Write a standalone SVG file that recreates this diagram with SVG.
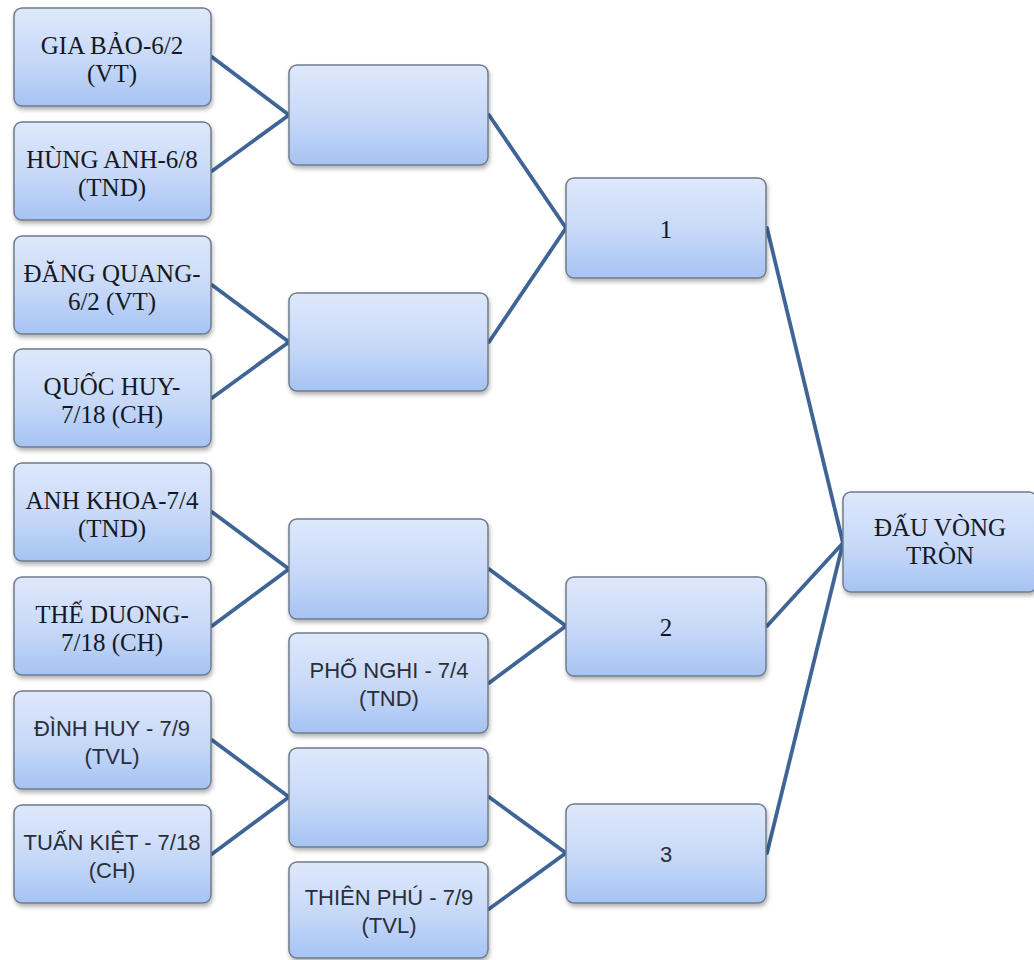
<svg xmlns="http://www.w3.org/2000/svg" width="1034" height="960" viewBox="0 0 1034 960">
<defs>
<linearGradient id="g" x1="0" y1="0" x2="0" y2="1">
<stop offset="0" stop-color="#dfe8fb"/>
<stop offset="0.55" stop-color="#c6d8f8"/>
<stop offset="1" stop-color="#a6c3f3"/>
</linearGradient>
<filter id="sh" x="-10%" y="-10%" width="130%" height="140%">
<feDropShadow dx="1" dy="3" stdDeviation="2" flood-color="#000" flood-opacity="0.3"/>
</filter>
<style>
.box{fill:url(#g);stroke:#6f7c8c;stroke-width:1.5;filter:url(#sh)}
.c line{stroke:#3e6596;stroke-width:3.8;stroke-linecap:round}
.s{font-family:"Liberation Serif","Times New Roman",serif;font-size:25px;fill:#141826;text-anchor:middle}
.a{font-family:"Liberation Sans",Arial,sans-serif;font-size:22px;fill:#2a2e3a;text-anchor:middle}
</style>
</defs>
<rect width="1034" height="960" fill="#ffffff"/>
<g class="c" id="connectors">
<line x1="212" y1="57" x2="289" y2="115"/>
<line x1="212" y1="171" x2="289" y2="115"/>
<line x1="212" y1="285" x2="289" y2="342"/>
<line x1="212" y1="398" x2="289" y2="342"/>
<line x1="212" y1="512" x2="289" y2="569"/>
<line x1="212" y1="626" x2="289" y2="569"/>
<line x1="212" y1="740" x2="289" y2="797"/>
<line x1="212" y1="854" x2="289" y2="797"/>
<line x1="489" y1="115" x2="566" y2="228"/>
<line x1="489" y1="342" x2="566" y2="228"/>
<line x1="489" y1="569" x2="566" y2="626"/>
<line x1="489" y1="683" x2="566" y2="626"/>
<line x1="489" y1="797" x2="566" y2="853"/>
<line x1="489" y1="909" x2="566" y2="853"/>
<line x1="767" y1="228" x2="843" y2="543"/>
<line x1="767" y1="626" x2="843" y2="543"/>
<line x1="767" y1="853" x2="843" y2="543"/>
</g>
<g id="n1"><rect class="box" x="14" y="8" width="197" height="98" rx="8"/><text class="s" x="112" y="54">GIA BẢO-6/2</text><text class="s" x="112" y="82">(VT)</text></g>
<g id="n2"><rect class="box" x="14" y="122" width="197" height="98" rx="8"/><text class="s" x="112" y="168">HÙNG ANH-6/8</text><text class="s" x="112" y="196">(TND)</text></g>
<g id="n3"><rect class="box" x="14" y="236" width="197" height="98" rx="8"/><text class="s" x="112" y="282">ĐĂNG QUANG-</text><text class="s" x="112" y="310">6/2 (VT)</text></g>
<g id="n4"><rect class="box" x="14" y="349" width="197" height="98" rx="8"/><text class="s" x="112" y="395">QUỐC HUY-</text><text class="s" x="112" y="423">7/18 (CH)</text></g>
<g id="n5"><rect class="box" x="14" y="463" width="197" height="98" rx="8"/><text class="s" x="112" y="509">ANH KHOA-7/4</text><text class="s" x="112" y="537">(TND)</text></g>
<g id="n6"><rect class="box" x="14" y="577" width="197" height="98" rx="8"/><text class="s" x="112" y="623">THẾ DUONG-</text><text class="s" x="112" y="651">7/18 (CH)</text></g>
<g id="n7"><rect class="box" x="14" y="691" width="197" height="98" rx="8"/><text class="a" x="112" y="736">ĐÌNH HUY - 7/9</text><text class="a" x="112" y="764">(TVL)</text></g>
<g id="n8"><rect class="box" x="14" y="805" width="197" height="98" rx="8"/><text class="a" x="112" y="850">TUẤN KIỆT - 7/18</text><text class="a" x="112" y="878">(CH)</text></g>
<g id="m1"><rect class="box" x="289" y="65" width="199" height="100" rx="8"/></g>
<g id="m2"><rect class="box" x="289" y="293" width="199" height="98" rx="8"/></g>
<g id="m3"><rect class="box" x="289" y="519" width="199" height="100" rx="8"/></g>
<g id="m4"><rect class="box" x="289" y="633" width="199" height="100" rx="8"/><text class="a" x="389" y="678">PHỐ NGHI - 7/4</text><text class="a" x="389" y="706">(TND)</text></g>
<g id="m5"><rect class="box" x="289" y="748" width="199" height="99" rx="8"/></g>
<g id="m6"><rect class="box" x="289" y="862" width="199" height="96" rx="8"/><text class="a" x="389" y="905">THIÊN PHÚ - 7/9</text><text class="a" x="389" y="933">(TVL)</text></g>
<g id="r1"><rect class="box" x="566" y="178" width="200" height="100" rx="8"/><text class="s" x="666" y="238">1</text></g>
<g id="r2"><rect class="box" x="566" y="577" width="200" height="99" rx="8"/><text class="s" x="666" y="636">2</text></g>
<g id="r3"><rect class="box" x="566" y="804" width="200" height="99" rx="8"/><text class="a" x="666" y="862">3</text></g>
<g id="final"><rect class="box" x="843" y="492" width="194" height="100" rx="8"/><text class="s" x="940" y="536">ĐẤU VÒNG</text><text class="s" x="940" y="564">TRÒN</text></g>
</svg>
